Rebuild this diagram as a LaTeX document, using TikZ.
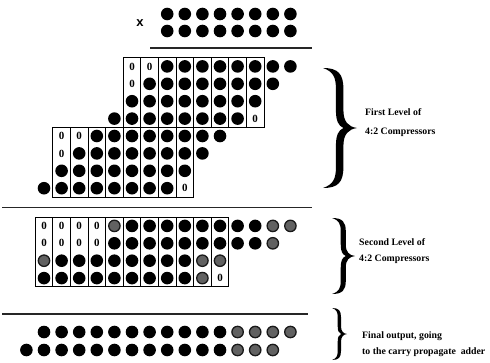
\documentclass[tikz,border=0pt]{standalone}
\usepackage{fontspec}
\setmainfont{Liberation Serif}
\newfontfamily\xsans{Liberation Sans}

% a row of bits: b = black dot, g = grey dot, z = zero, n = empty;
% column k has its centre at 132 + 17.6k
\newcommand\bitrow[3]{%
  \foreach \t [count=\i from 0] in {#3} {%
    \pgfmathsetmacro\cx{132+17.6*(#2+\i)}%
    \if b\t \node[bit] at (\cx,#1) {};\fi
    \if g\t \node[gbit] at (\cx,#1) {};\fi
    \if z\t \node[zero] at (\cx,#1) {0};\fi
  }}

% column boxes: first column, number of columns, top, bottom
\newcommand\colboxes[4]{%
  \foreach \k in {1,...,#2} {%
    \pgfmathsetmacro\xl{132+17.6*(#1+\k-1)-8.8}%
    \pgfmathsetmacro\xr{\xl+17.6}%
    \draw[colbox] (\xl,#3) rectangle (\xr,#4);
  }}

\tikzset{
  bit/.style={circle, fill=black, inner sep=0pt, minimum size=12.6pt},
  gbit/.style={circle, fill=black!62, draw=black!90, line width=1.3pt, inner sep=0pt, minimum size=11.4pt},
  zero/.style={inner sep=0pt, font=\bfseries\fontsize{11}{11}\selectfont},
  colbox/.style={draw=black, line width=0.8pt},
  rule/.style={draw=black!85, line width=1.1pt},
  caption/.style={anchor=west, inner sep=0pt, font=\bfseries\fontsize{9.8}{11}\selectfont},
  bigbrace/.pic={
    \fill (0,-1) .. controls (0.45,-1) and (0.6,-0.9) .. (0.6,-0.65)
      -- (0.6,-0.3) .. controls (0.6,-0.1) and (0.75,-0.02) .. (1,0)
      .. controls (0.75,0.02) and (0.6,0.1) .. (0.6,0.3)
      -- (0.6,0.65) .. controls (0.6,0.9) and (0.45,1) .. (0,1)
      .. controls (0.3,0.94) and (0.38,0.85) .. (0.38,0.65)
      -- (0.38,0.3) .. controls (0.38,0.12) and (0.45,0.04) .. (0.6,0)
      .. controls (0.45,-0.04) and (0.38,-0.12) .. (0.38,-0.3)
      -- (0.38,-0.65) .. controls (0.38,-0.85) and (0.3,-0.94) .. (0,-1) -- cycle;
  }
}

\begin{document}
\begin{tikzpicture}[x=1pt, y=-1pt]
\useasboundingbox (0,0) rectangle (490,362);

% multiplicand and multiplier
\bitrow{14}{2}{b,b,b,b,b,b,b,b}
\bitrow{31}{2}{b,b,b,b,b,b,b,b}
\node[font=\xsans\bfseries\fontsize{13}{13}\selectfont, inner sep=0pt] (times) at (140,23) {x};
\coordinate (r1a) at (150,48);
\coordinate (r1b) at (312,48);
\draw[rule] (r1a) -- (r1b);

% first level: upper group of compressors
\colboxes{0}{8}{57.7}{127.3}
\bitrow{66.4}{0}{z,z,b,b,b,b,b,b,b,b}
\bitrow{83.8}{0}{z,b,b,b,b,b,b,b,b}
\bitrow{101.2}{0}{b,b,b,b,b,b,b,b}
\bitrow{118.6}{-1}{b,b,b,b,b,b,b,b,z}

% first level: lower group of compressors
\colboxes{-4}{8}{127.3}{196.9}
\bitrow{136}{-4}{z,z,b,b,b,b,b,b,b,b}
\bitrow{153.4}{-4}{z,b,b,b,b,b,b,b,b}
\bitrow{170.8}{-4}{b,b,b,b,b,b,b,b}
\bitrow{188.2}{-5}{b,b,b,b,b,b,b,b,z}

\coordinate (r2a) at (2,207.5);
\coordinate (r2b) at (312,207.5);
\draw[rule] (r2a) -- (r2b);

% second level of compressors
\colboxes{-5}{11}{217.2}{286.8}
\bitrow{225.9}{-5}{z,z,z,z,g,b,b,b,b,b,b,b,b,g,g}
\bitrow{243.3}{-5}{z,z,z,z,b,b,b,b,b,b,b,b,b,g}
\bitrow{260.7}{-5}{g,b,b,b,b,b,b,b,b,g,g}
\bitrow{278.1}{-5}{b,b,b,b,b,b,b,b,b,g,z}

\coordinate (r3a) at (2,314);
\coordinate (r3b) at (308,314);
\draw[rule] (r3a) -- (r3b);

% two rows left for the carry propagate adder
\bitrow{332}{-5}{b,b,b,b,b,b,b,b,b,b,b,g,g,g,g}
\bitrow{350}{-6}{b,b,b,b,b,b,b,b,b,b,b,b,g,g,g}

% braces and their captions
\pic[xscale=34, yscale=60] at (323,128) {bigbrace};
\node[caption] (l1a) at (365,112) {First Level of};
\node[caption] (l1b) at (365,132) {4:2 Compressors};

\pic[xscale=23, yscale=38] at (332,256) {bigbrace};
\node[caption] (l2a) at (359,242) {Second Level of};
\node[caption] (l2b) at (359,259) {4:2 Compressors};

\pic[xscale=15, yscale=26] at (332,334) {bigbrace};
\node[caption] (l3a) at (362,336) {Final output, going};
\node[caption] (l3b) at (362,352) {to the carry propagate\ \ adder};
\end{tikzpicture}
\end{document}
